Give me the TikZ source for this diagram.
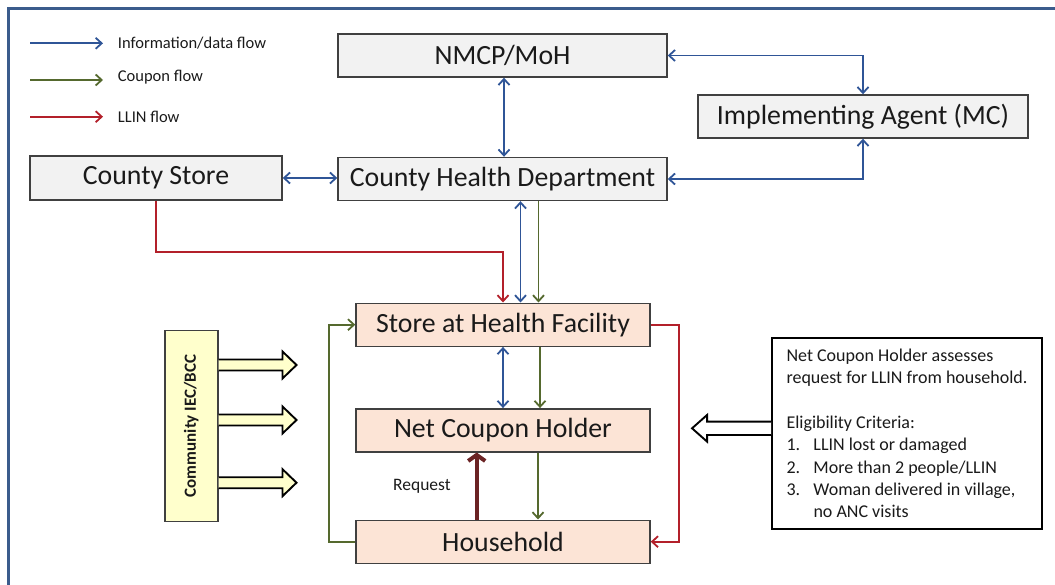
\documentclass[tikz,border=0pt]{standalone}
\usepackage{fontspec}
\setmainfont{Carlito}
\usetikzlibrary{arrows.meta,calc}

\definecolor{framec}{HTML}{3B5C8C}
\definecolor{infoblue}{HTML}{2F5597}
\definecolor{coupongreen}{HTML}{55692E}
\definecolor{llinred}{HTML}{B3202A}
\definecolor{reqred}{HTML}{6B2324}
\definecolor{boxline}{HTML}{404040}
\definecolor{topfill}{HTML}{F2F2F2}
\definecolor{lowfill}{HTML}{FCE4D6}
\definecolor{iecfill}{HTML}{FFFFCC}
\definecolor{textdark}{HTML}{1A1A1A}

\tikzset{
  box/.style={draw=boxline, line width=1.4bp, minimum height=43bp, inner sep=0pt,
    text=textdark, font=\fontsize{27.8bp}{32bp}\selectfont},
  topbox/.style={box, fill=topfill},
  lowbox/.style={box, fill=lowfill},
  flowline/.style={line width=1.8bp, >={Straight Barb[length=6bp,width=11bp]}},
  info/.style={flowline, draw=infoblue},
  coupon/.style={flowline, draw=coupongreen},
  llin/.style={flowline, draw=llinred},
  legendtext/.style={anchor=west, inner sep=0pt, text=textdark,
    font=\fontsize{16.5bp}{20bp}\selectfont},
  % hollow block arrow pointing right, drawn from its tail at the origin
  blockright/.pic={
    \fill[iecfill] (0,-5.5) -- (64,-5.5) -- (64,-13.5) -- (78,0) -- (64,13.5) -- (64,5.5) -- (0,5.5) -- cycle;
    \draw[black, line width=1.9bp, line join=miter]
      (0,-5.5) -- (64,-5.5) -- (64,-13.5) -- (78,0) -- (64,13.5) -- (64,5.5) -- (0,5.5);
  },
  % hollow block arrow pointing left, drawn from its tail at the origin
  blockleft/.pic={
    \fill[white] (0,-6.7) -- (-64,-6.7) -- (-64,-13.3) -- (-79,0) -- (-64,13.3) -- (-64,6.7) -- (0,6.7) -- cycle;
    \draw[black, line width=1.9bp, line join=miter]
      (0,-6.7) -- (-64,-6.7) -- (-64,-13.3) -- (-79,0) -- (-64,13.3) -- (-64,6.7) -- (0,6.7);
  }
}

\begin{document}
\begin{tikzpicture}[x=1bp, y=-1bp]
\useasboundingbox (0,0) rectangle (1055,585);

% outer frame (top and left edges)
\draw[framec, line width=2.7bp] (8.7,585) -- (8.7,8.7) -- (1055,8.7);

% legend
\coordinate (la1) at (30,43.3);  \coordinate (lb1) at (103,43.3);
\coordinate (la2) at (30,80);    \coordinate (lb2) at (103,80);
\coordinate (la3) at (30,116.7); \coordinate (lb3) at (103,116.7);
\draw[info,->] (la1) -- (lb1);
\draw[coupon,->] (la2) -- (lb2);
\draw[llin,->] (la3) -- (lb3);
\node[legendtext] (lt1) at (117.7,43.3) {Information/data flow};
\node[legendtext] (lt2) at (117.7,77.5) {Coupon flow};
\node[legendtext] (lt3) at (117.7,116.7) {LLIN flow};

% upper level boxes
\node[topbox, minimum width=329bp] (nmcp) at (502.5,55.5) {NMCP/MoH};
\node[topbox, minimum width=329bp] (chd) at (502.5,179) {County Health Department};
\node[topbox, minimum width=330bp] (ia) at (863,116.5) {Implementing Agent (MC)};
\node[topbox, minimum width=252bp, minimum height=44bp] (cs) at (156,178) {County Store};

% facility and community level boxes
\node[lowbox, minimum width=294bp] (shf) at (503,324.7) {Store at Health Facility};
\node[lowbox, minimum width=294bp] (nch) at (503,430.3) {Net Coupon Holder};
\node[lowbox, minimum width=294bp] (hh) at (503,541.7) {Household};

% community IEC/BCC panel with its three block arrows
\node[draw=boxline, line width=1.6bp, fill=iecfill, minimum width=53bp, minimum height=191bp,
      inner sep=0pt] (iec) at (191.2,426) {};
\node[rotate=90, text=textdark, font=\bfseries\fontsize{17bp}{20bp}\selectfont] (iect) at (iec.center) {Community IEC/BCC};
\pic at ($(iec.east)+(0,-61)$) {blockright};
\pic at ($(iec.east)+(0,-6)$) {blockright};
\pic at ($(iec.east)+(0,56.7)$) {blockright};

% eligibility note with block arrow
\node[draw=black, line width=1.9bp, fill=white, minimum width=270bp, minimum height=191bp,
      inner sep=0pt, align=left, text=textdark,
      font=\fontsize{18bp}{22.3bp}\selectfont] (note) at (907,433.5)
  {Net Coupon Holder assesses\\
   request for LLIN from household.\\[22.3bp]
   Eligibility Criteria:\\
   \makebox[27bp][l]{1.}LLIN lost or damaged\\
   \makebox[27bp][l]{2.}More than 2 people/LLIN\\
   \makebox[27bp][l]{3.}Woman delivered in village,\\
   \hspace*{27bp}no ANC visits};
\pic at ($(note.west)+(0,-5.2)$) {blockleft};

% information flows
\draw[info,<->] ([xshift=1.5bp]nmcp.south) -- ([xshift=1.5bp]chd.north);
\draw[info,<->] (nmcp.east) -| (ia.north);
\draw[info,<->] (chd.east) -| (ia.south);
\draw[info,<->] (cs.east) -- (cs.east -| chd.west);
\draw[info,<->] ([xshift=18bp]chd.south) -- ([xshift=18bp]chd.south |- shf.north);
\draw[info,<->] (shf.south) -- (nch.north);

% coupon flows
\draw[coupon,->] ([xshift=36bp]chd.south) -- ([xshift=36bp]chd.south |- shf.north);
\draw[coupon,->] ([xshift=37bp]shf.south) -- ([xshift=37bp]shf.south |- nch.north);
\draw[coupon,->] ([xshift=35bp]nch.south) -- ([xshift=35bp]nch.south |- hh.north);
\draw[coupon,->] (hh.west) -- ++(-26,0) |- (shf.west);

% LLIN flows
\draw[llin,->] (cs.south) -- ++(0,51.7) -| (shf.north);
\draw[llin,->] (shf.east) -- ++(28,0) |- (hh.east);

% household request
\draw[reqred, line width=4bp, -{Straight Barb[length=6bp,width=17bp]}]
  ([xshift=-26.3bp]hh.north) -- ([xshift=-26.3bp]nch.south)
  node[pos=0.5, left=24bp, inner sep=0pt, text=textdark, font=\fontsize{17.5bp}{20bp}\selectfont] (req) {Request};
\end{tikzpicture}
\end{document}
